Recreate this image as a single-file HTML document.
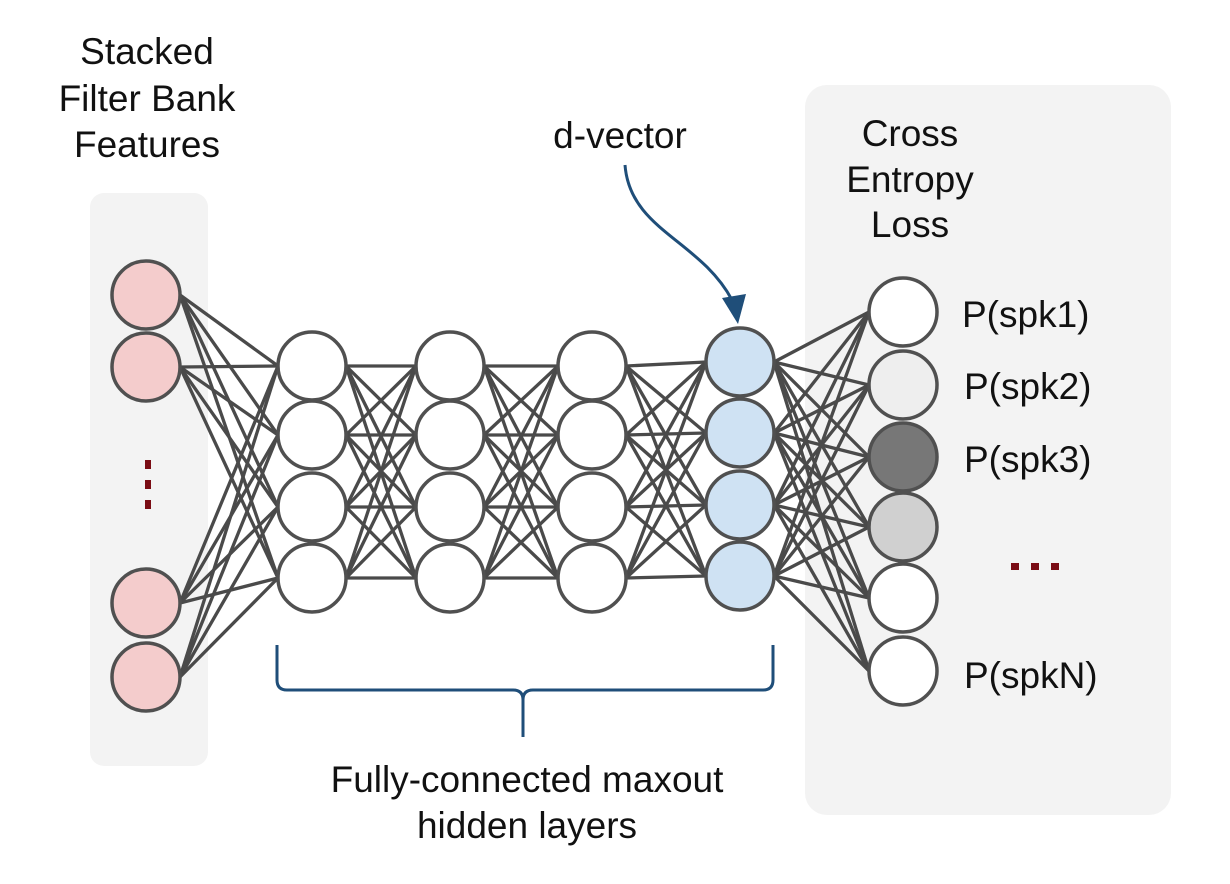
<!DOCTYPE html>
<html><head><meta charset="utf-8"><style>
html,body{margin:0;padding:0;background:#fff;width:1230px;height:884px;overflow:hidden}
text{font-family:"Liberation Sans",Arial,sans-serif;fill:#111}
</style></head><body>
<svg id="s" width="1230" height="884" viewBox="0 0 1230 884" xmlns="http://www.w3.org/2000/svg">
<rect x="90" y="193" width="118" height="573" rx="14" fill="#f3f3f3"/>
<rect x="805" y="85" width="366" height="730" rx="22" fill="#f3f3f3"/>
<g id="lines" stroke="#4a4a4a" stroke-width="3.3" fill="none"></g>
<g id="nodes" stroke="#505050" stroke-width="3.5"></g>
<g fill="#7a0c14">
<rect x="145" y="460" width="6" height="9"/><rect x="145" y="480" width="6" height="9"/><rect x="145" y="500" width="6" height="9"/>
<rect x="1011" y="563" width="8" height="7"/><rect x="1031" y="563" width="8" height="7"/><rect x="1051" y="563" width="8" height="7"/>
</g>
<path d="M625,165 C630,230 700,240 732,300" stroke="#1f4e79" stroke-width="3" fill="none"/>
<polygon points="722,298 746,294 738,324" fill="#1f4e79"/>
<path d="M277,645 L277,680 Q277,690 287,690 L513,690 Q523,690 523,700 L523,737 M523,700 Q523,690 533,690 L763,690 Q773,690 773,680 L773,645" stroke="#1f4e79" stroke-width="3" fill="none"/>
<g font-size="37" text-anchor="middle">
<text x="147" y="64">Stacked</text>
<text x="147" y="111">Filter Bank</text>
<text x="147" y="157">Features</text>
<text x="620" y="148">d-vector</text>
<text x="910" y="146">Cross</text>
<text x="910" y="192">Entropy</text>
<text x="910" y="237">Loss</text>
<text x="527" y="792">Fully-connected maxout</text>
<text x="527" y="838">hidden layers</text>
</g>
<g font-size="37">
<text x="962" y="327">P(spk1)</text>
<text x="964" y="399">P(spk2)</text>
<text x="964" y="472">P(spk3)</text>
<text x="964" y="688">P(spkN)</text>
</g>
</svg>
<script>
var NS="http://www.w3.org/2000/svg",r=34;
var layers=[
 {x:146,ys:[295,367,603,677],f:["#f4cccc","#f4cccc","#f4cccc","#f4cccc"]},
 {x:312,ys:[366,435,507,578],f:["#fff","#fff","#fff","#fff"]},
 {x:450,ys:[366,435,507,578],f:["#fff","#fff","#fff","#fff"]},
 {x:592,ys:[366,435,507,578],f:["#fff","#fff","#fff","#fff"]},
 {x:740,ys:[362,433,505,576],f:["#cfe2f3","#cfe2f3","#cfe2f3","#cfe2f3"]},
 {x:903,ys:[312,385,457,527,598,671],f:["#fff","#eeeeee","#777777","#d0d0d0","#fff","#fff"]}
];
var L=document.getElementById("lines"),N=document.getElementById("nodes");
for(var i=0;i<layers.length-1;i++){var a=layers[i],b=layers[i+1];
 a.ys.forEach(function(y1){b.ys.forEach(function(y2){var l=document.createElementNS(NS,"line");
 l.setAttribute("x1",a.x+r);l.setAttribute("y1",y1);l.setAttribute("x2",b.x-r);l.setAttribute("y2",y2);L.appendChild(l);});});}
layers.forEach(function(a){a.ys.forEach(function(y,j){var c=document.createElementNS(NS,"circle");
 c.setAttribute("cx",a.x);c.setAttribute("cy",y);c.setAttribute("r",r);c.setAttribute("fill",a.f[j]);N.appendChild(c);});});
</script>
</body></html>
